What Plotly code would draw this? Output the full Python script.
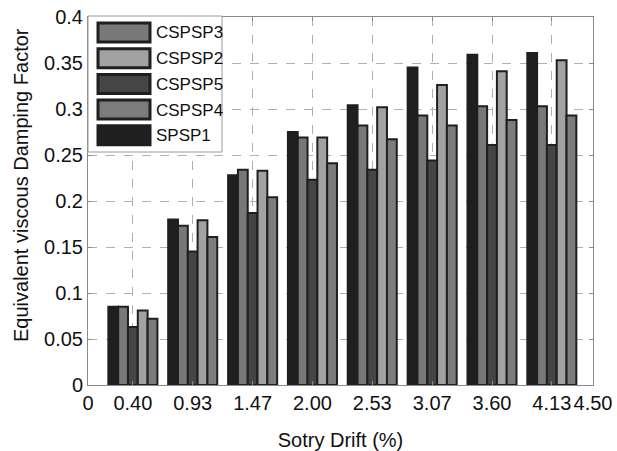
import plotly.graph_objects as go

# ---- data ----
drift = [0.40, 0.933, 1.467, 2.00, 2.533, 3.067, 3.60, 4.133]
x_tickvals = [0, 0.40, 0.933, 1.467, 2.00, 2.533, 3.067, 3.60, 4.133, 4.50]
x_ticktext = ["0", "0.40", "0.93", "1.47", "2.00", "2.53", "3.07", "3.60", "4.13", "4.50"]
y_tickvals = [0, 0.05, 0.1, 0.15, 0.2, 0.25, 0.3, 0.35, 0.4]
y_ticktext = ["0", "0.05", "0.1", "0.15", "0.2", "0.25", "0.3", "0.35", "0.4"]

SPSP1 = [0.085, 0.180, 0.228, 0.275, 0.304, 0.345, 0.359, 0.361]
CSPSP3 = [0.085, 0.173, 0.234, 0.269, 0.282, 0.293, 0.303, 0.303]
CSPSP5 = [0.063, 0.145, 0.187, 0.223, 0.234, 0.244, 0.261, 0.261]
CSPSP2 = [0.081, 0.179, 0.233, 0.269, 0.302, 0.326, 0.341, 0.353]
CSPSP4 = [0.072, 0.161, 0.204, 0.241, 0.267, 0.282, 0.288, 0.293]

# plotting order within a group
bar_series = [("SPSP1", SPSP1, "#1f1f1f"),
              ("CSPSP3", CSPSP3, "#787878"),
              ("CSPSP5", CSPSP5, "#454545"),
              ("CSPSP2", CSPSP2, "#a2a2a2"),
              ("CSPSP4", CSPSP4, "#7c7c7c")]
# legend order
legend_names = ["CSPSP3", "CSPSP2", "CSPSP5", "CSPSP4", "SPSP1"]
colors = {n: c for n, _, c in bar_series}

fig = go.Figure()
for name, vals, col in bar_series:
    fig.add_trace(go.Bar(x=drift, y=vals, name=name, marker_color=col,
                         marker_line=dict(color="#1f1f1f", width=2),
                         showlegend=False))

W, H = 617, 451
L, R, T, B = 88, 24, 17, 66
pw, ph = W - L - R, H - T - B

def px(x):
    return (x - L) / pw

def py(y):
    return (H - B - y) / ph

shapes = []
annotations = []
# legend box
shapes.append(dict(type="rect", xref="paper", yref="paper",
                   x0=px(88), x1=px(222), y0=py(152), y1=py(16),
                   fillcolor="white", line=dict(color="#9a9a9a", width=1), layer="above"))
for i, n in enumerate(legend_names):
    top = 23 + i * 25.7
    shapes.append(dict(type="rect", xref="paper", yref="paper",
                       x0=px(98), x1=px(150), y0=py(top + 19), y1=py(top),
                       fillcolor=colors[n], line=dict(color="#1f1f1f", width=3), layer="above"))
    annotations.append(dict(xref="paper", yref="paper", x=px(154), y=py(top + 10),
                            text=n, showarrow=False, xanchor="left", yanchor="middle",
                            font=dict(size=17, color="#111", family="Liberation Sans, Arial")))

# y-axis title as rotated text
annotations.append(dict(xref="paper", yref="paper", x=px(21), y=py(185),
                        text="Equivalent viscous Damping Factor", showarrow=False,
                        textangle=-90, xanchor="center", yanchor="middle",
                        font=dict(size=20, color="#111", family="Liberation Sans, Arial")))

fig.update_layout(
    width=W, height=H,
    margin=dict(l=L, r=R, t=T, b=B),
    paper_bgcolor="white", plot_bgcolor="white",
    barmode="group", bargap=0.18, bargroupgap=0,
    font=dict(family="Liberation Sans, Arial", size=20, color="#111"),
    shapes=shapes, annotations=annotations,
    xaxis=dict(range=[0, 4.5], tickvals=x_tickvals, ticktext=x_ticktext,
               showgrid=True, gridcolor="#b0b0b0", griddash="dash", gridwidth=1,
               showline=True, linecolor="#8a8a8a", linewidth=1, mirror="ticks",
               ticks="inside", ticklen=4, tickcolor="#8a8a8a", zeroline=False,
               tickfont=dict(size=20), automargin=False,
               title=dict(text="Sotry Drift (%)", font=dict(size=20), standoff=22)),
    yaxis=dict(range=[0, 0.4], tickvals=y_tickvals, ticktext=y_ticktext,
               showgrid=True, gridcolor="#b0b0b0", griddash="dash", gridwidth=1,
               showline=True, linecolor="#8a8a8a", linewidth=1, mirror="ticks",
               ticks="inside", ticklen=4, tickcolor="#8a8a8a", zeroline=False,
               tickfont=dict(size=20), automargin=False),
)

fig.write_html("out.html")
